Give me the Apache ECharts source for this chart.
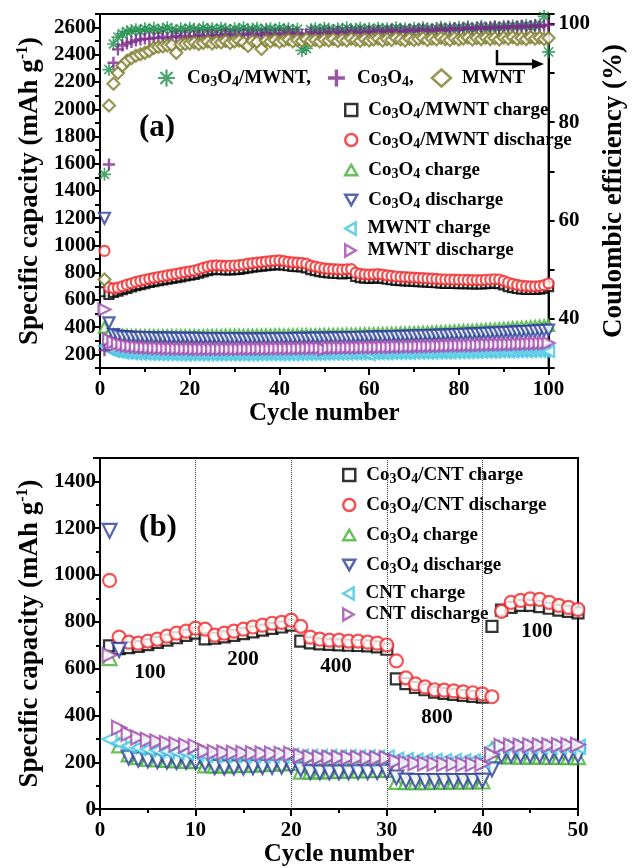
<!DOCTYPE html>
<html>
<head>
<meta charset="utf-8">
<title>Co3O4/MWNT cycling and rate</title>
<script src="https://cdn.jsdelivr.net/npm/echarts@6/dist/echarts.min.js"></script>
<style>html,body{margin:0;padding:0;background:#fff}</style>
</head>
<body>
<div id="main" style="width:636px;height:868px;"></div>
<script>
// ---- panel (a): 100 cycles ----
var aMwntCoCharge = [660, 640, 655, 665, 675, 685, 695, 705, 713, 720,
  728, 735, 741, 747, 753, 758, 764, 770, 776, 782,
  788, 796, 806, 815, 822, 824, 822, 820, 821, 823,
  825, 830, 836, 840, 844, 848, 852, 855, 858, 860,
  856, 851, 847, 845, 842, 836, 822, 815, 808, 802,
  798, 796, 794, 792, 795, 796, 772, 764, 760, 758,
  760, 762, 758, 752, 748, 744, 742, 740, 738, 736,
  734, 732, 730, 728, 726, 724, 722, 722, 721, 720,
  720, 719, 718, 718, 717, 720, 722, 724, 720, 710,
  698, 690, 684, 680, 678, 677, 677, 679, 684, 698];
var aMwntCoDischarge = [960, 692, 685, 690, 700, 712, 722, 732, 740, 748,
  755, 762, 768, 774, 780, 786, 792, 798, 804, 810,
  816, 825, 835, 845, 852, 854, 852, 850, 851, 853,
  855, 860, 866, 870, 874, 878, 882, 885, 888, 890,
  885, 880, 876, 874, 872, 866, 852, 845, 838, 832,
  828, 826, 824, 822, 825, 826, 800, 792, 788, 786,
  788, 790, 786, 780, 776, 772, 770, 768, 766, 764,
  762, 760, 758, 756, 754, 752, 750, 750, 749, 748,
  748, 747, 746, 746, 745, 748, 750, 752, 750, 740,
  728, 718, 710, 705, 702, 700, 700, 702, 708, 722];
var aCoCharge = [400, 355, 345, 342, 340, 340, 339, 339, 338, 338,
  338, 338, 337, 337, 337, 337, 337, 338, 338, 338,
  338, 338, 338, 339, 339, 339, 339, 340, 340, 340,
  340, 340, 341, 341, 341, 341, 342, 342, 342, 342,
  343, 343, 343, 344, 344, 344, 345, 345, 345, 346,
  346, 347, 347, 348, 348, 349, 349, 350, 351, 351,
  352, 353, 353, 354, 355, 356, 357, 358, 359, 360,
  361, 362, 363, 365, 366, 367, 369, 370, 372, 373,
  375, 376, 378, 380, 381, 383, 385, 387, 389, 391,
  393, 395, 397, 399, 401, 403, 405, 408, 410, 412];
var aCoDischarge = [1200, 432, 345, 335, 330, 328, 326, 325, 324, 323,
  322, 321, 320, 320, 319, 319, 318, 318, 318, 317,
  317, 317, 316, 316, 316, 316, 315, 315, 315, 315,
  315, 314, 314, 314, 314, 314, 314, 315, 315, 315,
  316, 316, 316, 317, 317, 318, 318, 319, 319, 320,
  320, 321, 321, 322, 323, 323, 324, 325, 325, 326,
  327, 328, 328, 329, 330, 331, 332, 333, 334, 335,
  336, 337, 338, 339, 340, 341, 342, 344, 345, 346,
  347, 349, 350, 351, 353, 354, 356, 357, 359, 360,
  362, 363, 365, 367, 368, 370, 372, 374, 376, 378];
var aMwntCharge = [262, 235, 222, 215, 210, 207, 205, 203, 202, 201,
  200, 199, 198, 198, 197, 197, 196, 196, 196, 195,
  195, 195, 195, 195, 195, 195, 195, 195, 195, 196,
  196, 196, 196, 196, 197, 197, 197, 197, 197, 198,
  198, 198, 198, 199, 199, 199, 200, 200, 200, 201,
  201, 201, 202, 202, 202, 203, 203, 203, 204, 198,
  204, 205, 205, 205, 206, 206, 207, 207, 207, 208,
  208, 209, 209, 209, 210, 210, 211, 211, 212, 212,
  213, 213, 214, 214, 215, 215, 216, 216, 217, 217,
  218, 218, 219, 219, 220, 220, 221, 221, 222, 222];
var aMwntDischarge = [530, 310, 290, 278, 270, 264, 260, 256, 253, 251,
  249, 247, 246, 245, 244, 243, 242, 242, 241, 241,
  240, 240, 240, 240, 240, 240, 240, 240, 240, 240,
  240, 241, 241, 241, 241, 242, 242, 242, 243, 243,
  243, 244, 244, 244, 245, 245, 246, 246, 247, 238,
  248, 248, 249, 249, 250, 250, 251, 251, 252, 252,
  253, 253, 254, 255, 255, 256, 256, 257, 258, 258,
  259, 260, 260, 261, 262, 262, 263, 264, 265, 265,
  266, 267, 268, 268, 269, 270, 271, 272, 272, 273,
  274, 275, 276, 277, 278, 279, 280, 281, 282, 284];
// coulombic efficiency (%), right axis
var ceCoMwnt = [69.4, 90.7, 95.9, 97.3, 98.0, 98.4, 98.6, 98.8, 98.5, 99.0,
  98.7, 99.1, 98.6, 98.9, 99.2, 98.8, 98.5, 99.0, 98.7, 99.1,
  98.9, 98.6, 99.2, 98.8, 99.0, 98.7, 99.1, 98.9, 98.6, 99.0,
  98.8, 99.2, 98.7, 98.9, 99.1, 98.6, 98.9, 99.0, 98.7, 99.1,
  98.8, 99.0, 98.6, 98.9, 94.6, 95.0, 98.8, 99.0, 98.7, 99.1,
  98.9, 98.6, 99.0, 98.8, 99.2, 98.7, 98.9, 99.1, 98.8, 99.0,
  98.7, 99.1, 98.9, 99.0, 98.8, 99.2, 98.9, 99.0, 98.7, 99.1,
  98.9, 99.2, 99.0, 98.8, 99.1, 99.3, 98.9, 99.2, 99.0, 99.3,
  99.1, 99.4, 99.0, 99.2, 99.5, 99.1, 99.3, 99.4, 99.2, 99.5,
  99.3, 99.6, 99.4, 99.5, 99.7, 99.4, 99.6, 99.8, 101.5, 94.3];
var ceCo = [33.6, 71.4, 92.1, 94.8, 95.6, 96.0, 96.3, 96.6, 96.8, 97.0,
  96.9, 97.2, 97.1, 97.4, 97.0, 97.3, 97.5, 97.2, 97.6, 97.3,
  97.5, 97.7, 97.4, 97.6, 97.8, 97.5, 97.7, 97.9, 97.6, 97.8,
  97.5, 97.9, 97.7, 98.0, 97.6, 97.8, 98.1, 97.7, 97.9, 98.0,
  97.8, 98.2, 97.9, 98.1, 97.8, 98.0, 98.3, 97.9, 98.2, 98.0,
  98.3, 98.1, 98.4, 98.0, 98.3, 98.5, 98.1, 98.4, 98.2, 98.5,
  98.3, 98.6, 98.2, 98.5, 98.7, 98.3, 98.6, 98.4, 98.8, 98.5,
  98.7, 98.9, 98.5, 98.8, 98.6, 99.0, 98.7, 98.9, 99.1, 98.8,
  99.0, 99.2, 98.9, 99.1, 99.3, 99.0, 99.2, 99.4, 99.1, 99.3,
  99.5, 99.2, 99.4, 99.6, 99.3, 99.5, 99.7, 99.4, 99.6, 99.8];
var ceMwnt = [48.0, 83.4, 87.8, 90.0, 91.5, 92.5, 93.0, 93.5, 93.8, 94.1,
  94.5, 95.1, 95.3, 95.4, 95.6, 95.7, 94.1, 95.8, 95.9, 96.0,
  96.2, 95.9, 96.1, 96.4, 96.0, 96.3, 96.2, 96.5, 96.1, 96.4,
  96.6, 96.2, 95.5, 96.5, 96.3, 94.9, 96.6, 96.4, 96.7, 96.3,
  96.6, 96.8, 96.4, 96.7, 96.5, 96.9, 96.5, 96.7, 96.4, 96.8,
  96.6, 96.9, 96.5, 96.8, 96.6, 97.0, 96.7, 96.5, 96.9, 96.6,
  96.8, 97.0, 96.6, 96.9, 96.7, 97.1, 96.8, 96.6, 97.0, 96.7,
  96.9, 97.1, 96.7, 97.0, 96.8, 97.2, 96.9, 96.7, 97.1, 96.8,
  97.0, 97.2, 96.8, 97.1, 96.9, 97.2, 96.9, 97.1, 96.8, 97.2,
  97.0, 97.3, 96.9, 97.1, 96.9, 97.3, 97.0, 97.2, 96.9, 97.1];

// ---- panel (b): rate test, 50 cycles ----
var bCntCoCharge = [697, 686, 690, 695, 703, 712, 722, 732, 742, 752,
  727, 730, 736, 742, 750, 757, 765, 772, 778, 786,
  718, 710, 706, 704, 702, 700, 699, 697, 693, 683,
  556, 536, 520, 510, 500, 494, 490, 486, 482, 478,
  781, 850, 862, 870, 870, 865, 858, 850, 845, 838];
var bCntCoDischarge = [977, 735, 713, 709, 718, 726, 739, 752, 760, 773,
  769, 743, 752, 760, 769, 778, 786, 794, 798, 807,
  781, 735, 726, 722, 722, 718, 718, 713, 709, 701,
  633, 561, 535, 522, 510, 508, 505, 501, 497, 492,
  480, 845, 883, 892, 898, 896, 883, 870, 862, 853];
var bCoCharge = [645, 272, 234, 222, 215, 212, 210, 208, 206, 205,
  187, 186, 186, 188, 189, 190, 192, 194, 195, 197,
  160, 160, 161, 162, 163, 164, 165, 166, 167, 168,
  116, 115, 115, 115, 116, 116, 117, 117, 118, 118,
  255, 225, 225, 224, 224, 224, 223, 223, 222, 222];
var bCoDischarge = [1189, 680, 220, 212, 208, 205, 203, 202, 202, 201,
  195, 180, 178, 178, 178, 179, 180, 181, 182, 183,
  170, 158, 157, 157, 157, 157, 158, 158, 158, 160,
  135, 122, 120, 120, 120, 120, 120, 120, 120, 122,
  170, 228, 229, 229, 229, 229, 229, 229, 229, 229];
var bCntCharge = [298, 282, 270, 262, 256, 251, 247, 244, 241, 238,
  232, 232, 231, 231, 230, 230, 230, 229, 229, 229,
  225, 224, 223, 223, 222, 222, 221, 221, 220, 220,
  212, 210, 208, 207, 206, 205, 205, 204, 204, 203,
  262, 266, 266, 266, 266, 266, 266, 266, 266, 266];
var bCntDischarge = [658, 348, 322, 306, 296, 289, 282, 277, 272, 268,
  248, 244, 242, 241, 240, 239, 238, 237, 236, 236,
  228, 222, 221, 220, 220, 219, 219, 218, 218, 218,
  204, 198, 196, 195, 194, 193, 193, 192, 192, 193,
  232, 270, 272, 272, 273, 273, 273, 274, 274, 275];
var rateBreaks = [10, 20, 30, 40];

var FONT = '"Liberation Serif", "Times New Roman", serif';
var C = {
  black: '#000000', red: '#f0282a', green: '#44b035', blue: '#2c3e9c',
  cyan: '#40c4e4', magenta: '#a04aac', star: '#1f8f4e', cross: '#7a2a8c', olive: '#7d7c2a'
};
var ASTERISK = 'path://M8.7,0L11.3,0L11.3,20L8.7,20Z M0,8.7L20,8.7L20,11.3L0,11.3Z ' +
  'M3.82,1.98L18.02,16.18L16.18,18.02L1.98,3.82Z M18.02,3.82L3.82,18.02L1.98,16.18L16.18,1.98Z';
var PLUS = 'path://M8,0L12,0L12,8L20,8L20,12L12,12L12,20L8,20L8,12L0,12L0,8L8,8Z';
var TRI_UP = 'path://M10,0L20,17.3L0,17.3Z';
var TRI_DOWN = 'path://M0,0L20,0L10,17.3Z';
var TRI_LEFT = 'path://M0,10L17.3,0L17.3,20Z';
var TRI_RIGHT = 'path://M0,0L17.3,10L0,20Z';

function pts(arr) {
  return arr.map(function (v, i) { return [i + 1, v]; });
}

// Co3O4 -> rich text with subscripts
function chem(name) {
  var parts = name.split('Co3O4');
  var out = '';
  parts.forEach(function (p, i) {
    if (i > 0) out += '{t|Co}{s|3}{t|O}{s|4}';
    if (p) out += '{t|' + p + '}';
  });
  return out;
}

var richLegend = {
  t: { fontFamily: FONT, fontWeight: 'bold', fontSize: 19, color: '#000', lineHeight: 20 },
  s: { fontFamily: FONT, fontWeight: 'bold', fontSize: 14, color: '#000', padding: [8, 0, 0, 0], lineHeight: 14 }
};
var richName = {
  a: { fontFamily: FONT, fontWeight: 'bold', fontSize: 27, color: '#000' },
  b: { fontFamily: FONT, fontWeight: 'bold', fontSize: 16, color: '#000', padding: [0, 0, 14, 0] }
};

function hollow(name, data, symbol, color, size, xi, yi) {
  return {
    name: name, type: 'scatter', xAxisIndex: xi, yAxisIndex: yi,
    data: pts(data), symbol: symbol, symbolSize: size,
    itemStyle: { color: '#fff', borderColor: color, borderWidth: 2.2 }
  };
}
function solid(name, data, symbol, color, size, xi, yi) {
  return {
    name: name, type: 'scatter', xAxisIndex: xi, yAxisIndex: yi,
    data: pts(data), symbol: symbol, symbolSize: size,
    itemStyle: { color: color, borderWidth: 0 }
  };
}

var lineSt = { color: '#000', width: 2 };
var labelSt = { color: '#000', fontFamily: FONT, fontWeight: 'bold', fontSize: 21 };

function xAx(grid, max, interval) {
  return {
    gridIndex: grid, type: 'value', min: 0, max: max, interval: interval,
    axisLine: { onZero: false, lineStyle: lineSt },
    axisTick: { length: 7, lineStyle: lineSt },
    minorTick: { show: true, splitNumber: 2, length: 4, lineStyle: lineSt },
    splitLine: { show: false },
    axisLabel: Object.assign({ margin: 11 }, labelSt),
    name: 'Cycle number', nameLocation: 'middle', nameGap: 31,
    nameTextStyle: { color: '#000', fontFamily: FONT, fontWeight: 'bold', fontSize: 25 }
  };
}

var legendBase = {
  orient: 'vertical', itemWidth: 12, itemHeight: 12,
  formatter: chem, textStyle: { rich: richLegend, padding: [0, 0, 0, 6] },
  itemStyle: { borderWidth: 2.5 }
};

var chart = echarts.init(document.getElementById('main'));
chart.setOption({
  animation: false,
  backgroundColor: '#fff',
  grid: [
    { left: 100, top: 14, width: 477, height: 354, show: true, borderColor: '#000', borderWidth: 2 },
    { left: 100, top: 458, width: 478, height: 354, show: true, borderColor: '#000', borderWidth: 2 }
  ],
  xAxis: [xAx(0, 100, 20), xAx(1, 50, 10)],
  yAxis: [
    {
      gridIndex: 0, type: 'value', min: 100, max: 2700, interval: 100,
      axisLine: { show: true, lineStyle: lineSt }, axisTick: { length: 5, lineStyle: lineSt },
      splitLine: { show: false },
      axisLabel: Object.assign({ margin: 4, formatter: function (v) { return v % 200 === 0 ? v : ''; } }, labelSt),
      name: '{a|Specific capacity (mAh g}{b|-1}{a|)}', nameLocation: 'middle', nameRotate: 90, nameGap: 54,
      nameTextStyle: { rich: richName }
    },
    {
      gridIndex: 0, type: 'value', position: 'right', min: 30, max: 102, interval: 10,
      axisLine: { show: true, lineStyle: lineSt }, axisTick: { length: 6, lineStyle: lineSt },
      splitLine: { show: false },
      axisLabel: Object.assign({ margin: 10, formatter: function (v) { return (v % 20 === 0 && v >= 40) ? v : ''; } }, labelSt),
      name: 'Coulombic efficiency (%)', nameLocation: 'middle', nameRotate: 90, nameGap: 46,
      nameTextStyle: { color: '#000', fontFamily: FONT, fontWeight: 'bold', fontSize: 27 }
    },
    {
      gridIndex: 1, type: 'value', min: 0, max: 1500, interval: 200,
      axisLine: { show: true, lineStyle: lineSt }, axisTick: { length: 7, lineStyle: lineSt },
      minorTick: { show: true, splitNumber: 2, length: 4, lineStyle: lineSt },
      splitLine: { show: false },
      axisLabel: Object.assign({ margin: 4, formatter: function (v) { return v <= 1400 ? v : ''; } }, labelSt),
      name: '{a|Specific capacity (mAh g}{b|-1}{a|)}', nameLocation: 'middle', nameRotate: 90, nameGap: 54,
      nameTextStyle: { rich: richName }
    }
  ],
  legend: [
    Object.assign({}, legendBase, {
      orient: 'horizontal', left: 153, top: 62, itemWidth: 19, itemHeight: 17, itemGap: 17,
      data: ['Co3O4/MWNT,', 'Co3O4,', 'MWNT']
    }),
    Object.assign({}, legendBase, { left: 339, top: 94, itemGap: 8,
      data: ['Co3O4/MWNT charge', 'Co3O4/MWNT discharge', 'Co3O4 charge', 'Co3O4 discharge'] }),
    Object.assign({}, legendBase, { left: 339, top: 214, itemGap: 3,
      data: ['MWNT charge', 'MWNT discharge'] }),
    Object.assign({}, legendBase, { left: 337, top: 459, itemGap: 8,
      data: ['Co3O4/CNT charge', 'Co3O4/CNT discharge', 'Co3O4 charge', 'Co3O4 discharge'] }),
    Object.assign({}, legendBase, { left: 337, top: 579, itemGap: 2,
      data: ['CNT charge', 'CNT discharge'] })
  ],
  graphic: [
    { type: 'text', x: 157, y: 128, style: { text: '(a)', font: 'bold 31px ' + FONT, fill: '#000', textAlign: 'center', textVerticalAlign: 'middle' } },
    { type: 'text', x: 158, y: 528, style: { text: '(b)', font: 'bold 31px ' + FONT, fill: '#000', textAlign: 'center', textVerticalAlign: 'middle' } },
    { type: 'text', x: 150, y: 673, style: { text: '100', font: 'bold 21px ' + FONT, fill: '#000', textAlign: 'center', textVerticalAlign: 'middle' } },
    { type: 'text', x: 243, y: 660, style: { text: '200', font: 'bold 21px ' + FONT, fill: '#000', textAlign: 'center', textVerticalAlign: 'middle' } },
    { type: 'text', x: 336, y: 667, style: { text: '400', font: 'bold 21px ' + FONT, fill: '#000', textAlign: 'center', textVerticalAlign: 'middle' } },
    { type: 'text', x: 437, y: 718, style: { text: '800', font: 'bold 21px ' + FONT, fill: '#000', textAlign: 'center', textVerticalAlign: 'middle' } },
    { type: 'text', x: 537, y: 632, style: { text: '100', font: 'bold 21px ' + FONT, fill: '#000', textAlign: 'center', textVerticalAlign: 'middle' } },
    { type: 'polyline', shape: { points: [[497, 50], [497, 64], [534, 64]] }, style: { stroke: '#000', lineWidth: 2.5, fill: null } },
    { type: 'polygon', shape: { points: [[544, 64], [532, 59], [532, 69]] }, style: { fill: '#000' } }
  ],
  series: [
    hollow('Co3O4/MWNT charge', aMwntCoCharge, 'rect', C.black, 9, 0, 0),
    hollow('Co3O4/MWNT discharge', aMwntCoDischarge, 'circle', C.red, 10, 0, 0),
    hollow('Co3O4 charge', aCoCharge, TRI_UP, C.green, 11, 0, 0),
    hollow('Co3O4 discharge', aCoDischarge, TRI_DOWN, C.blue, 11, 0, 0),
    hollow('MWNT charge', aMwntCharge, TRI_LEFT, C.cyan, 11, 0, 0),
    hollow('MWNT discharge', aMwntDischarge, TRI_RIGHT, C.magenta, 12, 0, 0),
    solid('Co3O4/MWNT,', ceCoMwnt, ASTERISK, C.star, 13, 0, 1),
    solid('Co3O4,', ceCo, PLUS, C.cross, 12, 0, 1),
    hollow('MWNT', ceMwnt, 'diamond', C.olive, 12, 0, 1),

    Object.assign(hollow('Co3O4/CNT charge', bCntCoCharge, 'rect', C.black, 11, 1, 2), {
      markLine: {
        silent: true, symbol: 'none', label: { show: false },
        lineStyle: { color: '#333', type: 'dotted', width: 1 },
        data: rateBreaks.map(function (x) { return { xAxis: x }; })
      }
    }),
    hollow('Co3O4/CNT discharge', bCntCoDischarge, 'circle', C.red, 13, 1, 2),
    hollow('Co3O4 charge', bCoCharge, TRI_UP, C.green, 14, 1, 2),
    hollow('Co3O4 discharge', bCoDischarge, TRI_DOWN, C.blue, 14, 1, 2),
    hollow('CNT charge', bCntCharge, TRI_LEFT, C.cyan, 14, 1, 2),
    hollow('CNT discharge', bCntDischarge, TRI_RIGHT, C.magenta, 14, 1, 2)
  ]
});
</script>
</body>
</html>
